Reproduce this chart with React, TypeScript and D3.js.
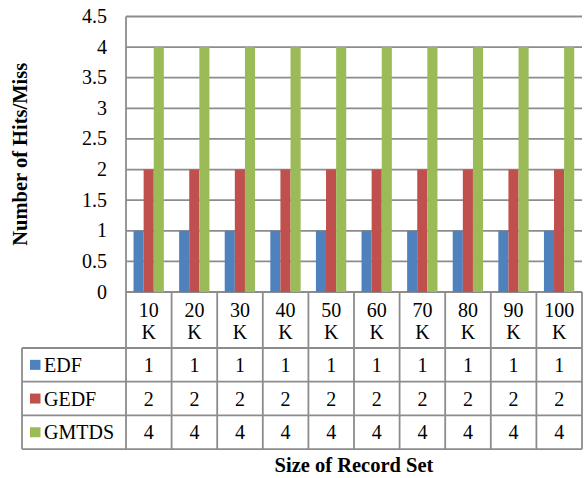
import React from "react";
import * as d3 from "d3";

const categories = ["10 K", "20 K", "30 K", "40 K", "50 K", "60 K", "70 K", "80 K", "90 K", "100 K"];
const seriesNames = ["EDF", "GEDF", "GMTDS"];
const edf = [1, 1, 1, 1, 1, 1, 1, 1, 1, 1];
const gedf = [2, 2, 2, 2, 2, 2, 2, 2, 2, 2];
const gmtds = [4, 4, 4, 4, 4, 4, 4, 4, 4, 4];
const yTicks = [0, 0.5, 1, 1.5, 2, 2.5, 3, 3.5, 4, 4.5];

const W = 584;
const H = 478;
const plotLeft = 126;
const plotRight = 582;
const plotTop = 16.5;
const plotBottom = 292;
const tableLeft = 22;
const catRowBottom = 348;
const rowH = 33.7;

const colors = ["#4F81BD", "#C0504D", "#9BBB59"];
const gridColor = "#8c8c8c";
const font = "Liberation Serif";

export default function App() {
  const seriesValues = [edf, gedf, gmtds];
  const x = d3.scaleBand<string>().domain(categories).range([plotLeft, plotRight]).padding(0);
  const x1 = d3
    .scaleBand<string>()
    .domain(seriesNames)
    .range([x.bandwidth() * 0.165, x.bandwidth() * 0.83])
    .padding(0);
  const y = d3.scaleLinear().domain([0, 4.5]).range([plotBottom, plotTop]);

  const rowTops = seriesNames.map((_, i) => catRowBottom + i * rowH);
  const tableBottom = catRowBottom + seriesNames.length * rowH;
  const txt = { fontFamily: font, fontSize: "20px", fill: "#000" } as React.CSSProperties;
  const bold = { fontFamily: font, fontSize: "20.5px", fontWeight: 700, fill: "#000" } as React.CSSProperties;

  return (
    <svg width={W} height={H} style={{ position: "fixed", left: 0, top: 0, background: "#fff" }}>
      <rect width={W} height={H} fill="#fff" />
      {/* horizontal gridlines */}
      {yTicks.map((t) => (
        <line
          key={"g" + t}
          x1={plotLeft}
          x2={plotRight}
          y1={y(t)}
          y2={y(t)}
          stroke={gridColor}
          strokeWidth={1.8}
        />
      ))}
      {/* bars */}
      {seriesNames.map((s, si) =>
        categories.map((c, ci) => (
          <rect
            key={s + c}
            x={(x(c) as number) + (x1(s) as number)}
            y={y(seriesValues[si][ci])}
            width={x1.bandwidth()}
            height={plotBottom - y(seriesValues[si][ci])}
            fill={colors[si]}
          />
        ))
      )}
      {/* y tick labels */}
      {yTicks.map((t) => (
        <text key={"t" + t} x={107} y={y(t) + 6.5} textAnchor="end" style={txt}>
          {String(t)}
        </text>
      ))}
      {/* y axis title */}
      <text
        transform={`translate(20,${(plotTop + plotBottom) / 2}) rotate(-90)`}
        textAnchor="middle"
        dominantBaseline="central"
        style={bold}
      >
        Number of Hits/Miss
      </text>
      {/* data table lines */}
      <g stroke={gridColor} strokeWidth={1.8} fill="none">
        <line x1={plotLeft} x2={plotLeft} y1={plotTop} y2={tableBottom} />
        {categories.map((c) => (
          <line
            key={"v" + c}
            x1={(x(c) as number) + x.bandwidth()}
            x2={(x(c) as number) + x.bandwidth()}
            y1={plotBottom}
            y2={tableBottom}
          />
        ))}
        <line x1={tableLeft} x2={tableLeft} y1={catRowBottom} y2={tableBottom} />
        {[...rowTops, tableBottom].map((ry, i) => (
          <line key={"h" + i} x1={tableLeft} x2={plotRight} y1={ry} y2={ry} />
        ))}
      </g>
      {/* category header */}
      {categories.map((c) => {
        const [num, unit] = c.split(" ");
        const cx = (x(c) as number) + x.bandwidth() / 2;
        return (
          <text key={"c" + c} x={cx} textAnchor="middle" style={txt}>
            <tspan x={cx} y={316.5}>
              {num}
            </tspan>
            <tspan x={cx} y={339}>
              {unit}
            </tspan>
          </text>
        );
      })}
      {/* legend keys + values */}
      {seriesNames.map((s, si) => {
        const ty = rowTops[si] + rowH / 2 + 7;
        return (
          <g key={"r" + s}>
            <rect x={30} y={rowTops[si] + rowH / 2 - 5} width={10.5} height={10} fill={colors[si]} />
            <text x={44} y={ty} style={txt}>
              {s}
            </text>
            {categories.map((c, ci) => (
              <text
                key={s + c}
                x={(x(c) as number) + x.bandwidth() / 2}
                y={ty}
                textAnchor="middle"
                style={txt}
              >
                {seriesValues[si][ci]}
              </text>
            ))}
          </g>
        );
      })}
      {/* x axis title */}
      <text x={(plotLeft + plotRight) / 2} y={472} textAnchor="middle" style={bold}>
        Size of Record Set
      </text>
    </svg>
  );
}
